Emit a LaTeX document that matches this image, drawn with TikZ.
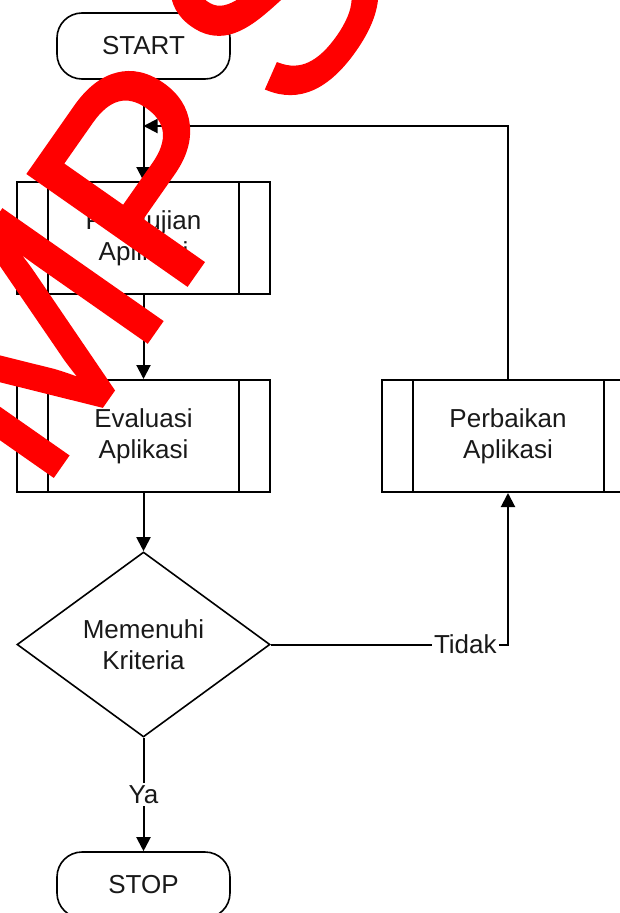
\documentclass[tikz,border=0pt]{standalone}
\usepackage{fontspec}
\setmainfont{Liberation Sans}
\newfontfamily\wmfont[FakeBold=1.5]{Liberation Sans}
\usetikzlibrary{shapes.geometric,arrows.meta}
\begin{document}
\begin{tikzpicture}[x=1pt,y=-1pt,
  lbl/.style={font=\fontsize{26}{31}\selectfont, align=center, text=black!90},
  term/.style={draw, line width=1.6pt, rectangle, rounded corners=25pt, minimum width=173pt, minimum height=66pt, inner sep=0pt, lbl},
  proc/.style={draw, line width=2pt, rectangle, minimum width=253pt, minimum height=112pt, inner sep=0pt, lbl},
  dec/.style={draw, line width=1.6pt, diamond, aspect=1.3676, minimum width=253pt, minimum height=185pt, inner sep=0pt, lbl},
  conn/.style={line width=2pt, -{Triangle[length=14pt,width=14pt]}},
  plain/.style={line width=2pt},
  edgelbl/.style={lbl, fill=white, inner sep=2pt}]
\useasboundingbox (0,0) rectangle (620,913);
\node[term] (start) at (143.5,46) {START};
\node[proc] (pen) at (143.5,238) {Pengujian\\Aplikasi};
\node[proc] (eva) at (143.5,436) {Evaluasi\\Aplikasi};
\node[proc] (per) at (508,436) {Perbaikan\\Aplikasi};
\node[dec] (kri) at (143.5,644.5) {Memenuhi\\Kriteria};
\node[term] (stop) at (143.5,885) {STOP};
\foreach \n in {pen,eva,per}{
  \draw[plain] ([xshift=32pt]\n.north west) -- ([xshift=32pt]\n.south west);
  \draw[plain] ([xshift=-32pt]\n.north east) -- ([xshift=-32pt]\n.south east);
}
\coordinate (j) at (143.5,126);
\draw[conn] (start) -- (pen);
\draw[conn] (per.north) |- (j);
\draw[conn] (pen) -- (eva);
\draw[conn] (eva) -- (kri);
\draw[conn] (kri.east) -| node[edgelbl, pos=0.41] {Tidak} (per.south);
\draw[conn] (kri.south) -- node[edgelbl, pos=0.5] {Ya} (stop.north);
\node[anchor=base west, rotate=55, inner sep=0pt, text=red, font=\wmfont\fontsize{280}{300}\selectfont] (wm) at (40,494) {MP\hspace{30pt}S};
\end{tikzpicture}
\end{document}
